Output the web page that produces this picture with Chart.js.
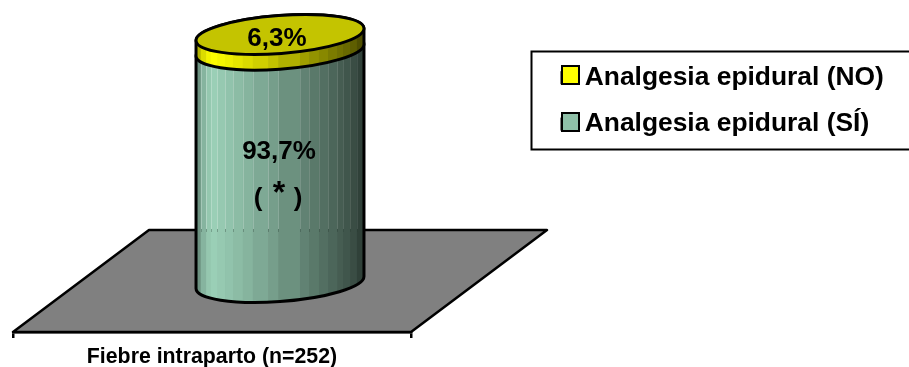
<!DOCTYPE html>
<html><head><meta charset="utf-8">
<style>html,body{margin:0;padding:0;background:#fff}canvas{display:block}</style>
<script src="https://cdn.jsdelivr.net/npm/chart.js@4/dist/chart.umd.js"></script>
</head><body>
<canvas id="c" width="909" height="367"></canvas>
<script>
const categories = ['Fiebre intraparto (n=252)'];
const seriesNames = ['Analgesia epidural (SÍ)', 'Analgesia epidural (NO)'];
const valuesSi = [93.7];
const valuesNo = [6.3];
const noteParts = ['(', '*', ')'];

const FONT = '"Liberation Sans", Arial, sans-serif';
const COL_SI = '#8fc0a8', COL_NO = '#ffff00';
const DEPTH = {x:136, y:-102};          // floor depth
const MID = {x:68, y:-49.5};            // cylinder sits mid-way in the depth
const ELL = {a:84.2, b:19, rot:-4.3*Math.PI/180, t0:0.017};
// facet edges as fractions of the cylinder width, and shade along the width
const FACETS = [0,.028,.06,.088,.127,.173,.22,.278,.338,.43,.49,.619,.673,.732,.786,.84,.875,.917,.958,1];
const SHADE = [[0,.62],[.04,.85],[.09,1],[.2,.93],[.4,.8],[.6,.66],[.8,.5],[.93,.38],[1,.28]];
function shade(f){
  for(let i=1;i<SHADE.length;i++){ if(f<=SHADE[i][0]){
    const [a,va]=SHADE[i-1],[b,vb]=SHADE[i]; return va+(vb-va)*(f-a)/(b-a);} }
  return SHADE[SHADE.length-1][1];
}
const PEAK = {si:[156,209,184], no:[255,255,0]};
const tone=(c,k)=>`rgb(${c.map(v=>Math.round(v*k)).join(',')})`;

function segPath(ctx,cx,yLow,yHigh){
  const {a,b,rot,t0}=ELL;
  ctx.beginPath();
  ctx.ellipse(cx,yLow,a,b,rot,t0,Math.PI+t0,false);     // lower front arc, right to left
  ctx.ellipse(cx,yHigh,a,b,rot,Math.PI+t0,2*Math.PI+t0,false); // upper arc, left to right
  ctx.closePath();
}
function drawSeg(ctx,cx,w,yLow,yHigh,peak,hair,floorY){
  const left=cx-w/2;
  ctx.save();
  segPath(ctx,cx,yLow,yHigh); ctx.clip();
  for(let i=0;i<FACETS.length-1;i++){
    const x0=left+FACETS[i]*w, x1=left+FACETS[i+1]*w;
    ctx.fillStyle=tone(peak,shade((FACETS[i]+FACETS[i+1])/2));
    ctx.fillRect(x0,yHigh-40,x1-x0+.6,yLow-yHigh+90);
  }
  if(hair){
    for(let i=1;i<FACETS.length-1;i++){
      const x=Math.round(left+FACETS[i]*w)+.5;
      ctx.strokeStyle=`rgba(255,255,255,${.26-.18*FACETS[i]})`;
      ctx.lineWidth=1;
      ctx.beginPath();ctx.moveTo(x,yHigh-40);ctx.lineTo(x,floorY-1);ctx.stroke();
      ctx.strokeStyle='rgba(40,60,50,.3)';
      ctx.beginPath();ctx.moveTo(x,floorY-1);ctx.lineTo(x,floorY+2);ctx.stroke();
    }
  }
  ctx.restore();
  segPath(ctx,cx,yLow,yHigh);
  ctx.strokeStyle='#000';ctx.lineWidth=3;ctx.stroke();
}

const cylinderPlugin = {
  id:'cylinder',
  afterLayout(chart){
    const lg=chart.legend;
    const w=lg.width,h=lg.height;
    lg.left=541; lg.top=44.5; lg.right=lg.left+w; lg.bottom=lg.top+h;
  },
  beforeDatasetDraw(){ return false; },
  beforeDatasetsDraw(chart){
    const {ctx,chartArea:ca}=chart;
    ctx.save();
    ctx.beginPath();
    ctx.moveTo(ca.left,ca.bottom);ctx.lineTo(ca.right,ca.bottom);
    ctx.lineTo(ca.right+DEPTH.x,ca.bottom+DEPTH.y);ctx.lineTo(ca.left+DEPTH.x,ca.bottom+DEPTH.y);
    ctx.closePath();
    ctx.fillStyle='#808080';ctx.fill();
    ctx.strokeStyle='#000';ctx.lineWidth=2.5;ctx.lineJoin='round';ctx.stroke();
    ctx.restore();
  },
  afterDatasetsDraw(chart){
    const {ctx,chartArea:ca}=chart;
    const si=chart.getDatasetMeta(0).data[0], no=chart.getDatasetMeta(1).data[0];
    const cx=si.x+MID.x, w=si.width;
    const yBase=si.base+MID.y, ySi=si.y+MID.y, yNo=no.y+MID.y;
    const floorY=ca.bottom+DEPTH.y;
    ctx.save();
    drawSeg(ctx,cx,w,yBase,ySi,PEAK.si,true,floorY);
    drawSeg(ctx,cx,w,ySi,yNo,PEAK.no,false,floorY);
    ctx.beginPath();ctx.ellipse(cx,yNo,ELL.a,ELL.b,ELL.rot,0,2*Math.PI);
    ctx.fillStyle='#c4c400';ctx.fill();
    ctx.strokeStyle='#000';ctx.lineWidth=3;ctx.stroke();
    // value labels
    const fmt=v=>String(v).replace('.',',')+'%';
    ctx.fillStyle='#000';ctx.font='bold 26px '+FONT;ctx.textAlign='center';ctx.textBaseline='middle';
    ctx.fillText(fmt(valuesNo[0]),cx-3,yNo+4);
    ctx.fillText(fmt(valuesSi[0]),cx-1,ySi+102);
    ctx.fillText(noteParts[0],cx-22,ySi+149);
    ctx.fillText(noteParts[2],cx+18,ySi+149);
    ctx.font='bold 32px '+FONT;
    ctx.fillText(noteParts[1],cx-1,ySi+144);
    ctx.restore();
    // legend frame
    ctx.save();
    ctx.strokeStyle='#000';ctx.lineWidth=2;
    ctx.strokeRect(531.5,51.5,400,98);
    ctx.restore();
  },
  afterDraw(chart){
    const {ctx}=chart,lg=chart.legend;
    const cols=[COL_NO,COL_SI];
    ctx.save();
    cols.forEach((c,i)=>{
      const cy=lg.top+30.5+i*47;
      ctx.fillStyle=c;ctx.fillRect(lg.left+21,cy-9,17,18);
      ctx.strokeStyle='#000';ctx.lineWidth=2;ctx.strokeRect(lg.left+21,cy-9,17,18);
    });
    ctx.restore();
  }
};

Chart.defaults.font.family=FONT;
new Chart(document.getElementById('c'),{
  type:'bar',
  data:{labels:categories,datasets:[
    {label:seriesNames[0],data:valuesSi,backgroundColor:COL_SI,borderColor:'#000',borderWidth:1,barPercentage:168/398,categoryPercentage:1},
    {label:seriesNames[1],data:valuesNo,backgroundColor:COL_NO,borderColor:'#000',borderWidth:1,barPercentage:168/398,categoryPercentage:1}
  ]},
  options:{
    responsive:false,animation:false,
    layout:{padding:{left:13,right:498,top:84,bottom:0}},
    scales:{
      x:{stacked:true,
        afterFit(s){s.height=35;},
        grid:{drawOnChartArea:false,drawTicks:true,tickLength:6,color:'#000',lineWidth:2.5},
        border:{color:'#000',width:2.5},
        ticks:{color:'#000',maxRotation:0,padding:8,font:{size:21.3,weight:'bold',lineHeight:1}}},
      y:{display:false,stacked:true,min:0,max:100}
    },
    plugins:{
      tooltip:{enabled:false},
      legend:{position:'chartArea',align:'start',reverse:true,
        labels:{color:'#000',boxWidth:10.5,boxHeight:13,padding:20,font:{size:26.4,weight:'bold',lineHeight:1}}}
    }
  },
  plugins:[cylinderPlugin]
});
</script>
</body></html>
